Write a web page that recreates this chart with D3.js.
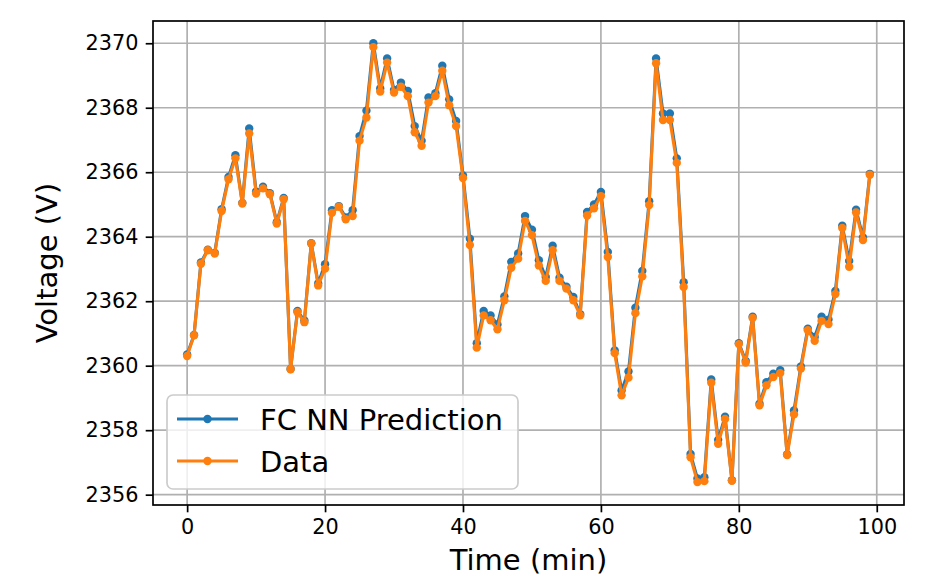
<!DOCTYPE html>
<html>
<head>
<meta charset="utf-8">
<script src="https://cdn.jsdelivr.net/npm/d3@7"></script>
<style>
  body { margin: 0; background: #fff; }
  svg { display: block; font-family: "DejaVu Sans", sans-serif; }
</style>
</head>
<body>
<svg id="chart" width="927" height="576"></svg>
<script>
// time index (min)
var time = d3.range(0, 100);

var prediction = [2360.35, 2360.95, 2363.2, 2363.6, 2363.5, 2364.85, 2365.85, 2366.53, 2365.05, 2367.36,
  2365.4, 2365.55, 2365.35, 2364.45, 2365.2, 2359.9, 2361.7, 2361.4, 2363.8, 2362.55,
  2363.15, 2364.82, 2364.95, 2364.6, 2364.82, 2367.12, 2367.91, 2370.0, 2368.6, 2369.53,
  2368.55, 2368.78, 2368.52, 2367.43, 2366.98, 2368.32, 2368.45, 2369.3, 2368.26, 2367.59,
  2365.9, 2363.94, 2360.7, 2361.7, 2361.56, 2361.28, 2362.15, 2363.22, 2363.48, 2364.64,
  2364.22, 2363.27, 2362.75, 2363.72, 2362.73, 2362.45, 2362.13, 2361.6, 2364.77, 2365.0,
  2365.39, 2363.53, 2360.47, 2359.23, 2359.82, 2361.8, 2362.94, 2365.1, 2369.53, 2367.82,
  2367.82, 2366.43, 2362.59, 2357.26, 2356.5, 2356.54, 2359.57, 2357.7, 2358.42, 2356.45,
  2360.7, 2360.15, 2361.52, 2358.82, 2359.49, 2359.75, 2359.86, 2357.25, 2358.61, 2359.98,
  2361.15, 2360.89, 2361.52, 2361.43, 2362.32, 2364.34, 2363.25, 2364.84, 2363.98, 2365.95];

var data = [2360.3, 2360.94, 2363.16, 2363.58, 2363.48, 2364.8, 2365.78, 2366.43, 2365.03, 2367.2,
  2365.34, 2365.5, 2365.32, 2364.41, 2365.16, 2359.89, 2361.66, 2361.35, 2363.79, 2362.49,
  2363.01, 2364.74, 2364.93, 2364.54, 2364.64, 2366.98, 2367.7, 2369.88, 2368.5, 2369.4,
  2368.47, 2368.65, 2368.36, 2367.24, 2366.82, 2368.16, 2368.36, 2369.15, 2368.08, 2367.43,
  2365.82, 2363.74, 2360.56, 2361.56, 2361.41, 2361.13, 2362.03, 2363.04, 2363.32, 2364.49,
  2364.05, 2363.11, 2362.63, 2363.58, 2362.63, 2362.39, 2362.03, 2361.56, 2364.66, 2364.88,
  2365.26, 2363.37, 2360.39, 2359.08, 2359.63, 2361.63, 2362.77, 2364.98, 2369.38, 2367.62,
  2367.62, 2366.29, 2362.44, 2357.16, 2356.39, 2356.42, 2359.47, 2357.58, 2358.35, 2356.43,
  2360.67, 2360.1, 2361.48, 2358.77, 2359.39, 2359.65, 2359.77, 2357.23, 2358.49, 2359.91,
  2361.1, 2360.77, 2361.39, 2361.29, 2362.22, 2364.27, 2363.07, 2364.75, 2363.9, 2365.92];

var xTicks = [0, 20, 40, 60, 80, 100];
var yTicks = [2356, 2358, 2360, 2362, 2364, 2366, 2368, 2370];

var seriesNames = ["FC NN Prediction", "Data"];
var seriesColors = ["#1f77b4", "#ff7f0e"];

var svg = d3.select("#chart");
var plotL = 153, plotR = 904, plotT = 21, plotB = 505;

var x = d3.scaleLinear().domain([-4.95, 103.95]).range([plotL, plotR]);
var y = d3.scaleLinear().domain([2355.68, 2370.69]).range([plotB, plotT]);

// grid
var grid = svg.append("g");
grid.selectAll(".gx").data(xTicks).enter().append("line")
  .attr("x1", d => x(d)).attr("x2", d => x(d))
  .attr("y1", plotT).attr("y2", plotB)
  .attr("stroke", "#b0b0b0").attr("stroke-width", 1.7);
grid.selectAll(".gy").data(yTicks).enter().append("line")
  .attr("x1", plotL).attr("x2", plotR)
  .attr("y1", d => y(d)).attr("y2", d => y(d))
  .attr("stroke", "#b0b0b0").attr("stroke-width", 1.7);

// lines + markers
var line = d3.line().x((d, i) => x(time[i])).y(d => y(d));
[prediction, data].forEach(function(s, k) {
  var g = svg.append("g");
  g.append("path").datum(s)
    .attr("d", line).attr("fill", "none")
    .attr("stroke", seriesColors[k]).attr("stroke-width", 3.1)
    .attr("stroke-linejoin", "round");
  g.selectAll("circle").data(s).enter().append("circle")
    .attr("cx", (d, i) => x(time[i])).attr("cy", d => y(d))
    .attr("r", 4.2).attr("fill", seriesColors[k]);
});

// axes
var xAxis = d3.axisBottom(x).tickValues(xTicks).tickSize(7.3).tickPadding(7.3);
var yAxis = d3.axisLeft(y).tickValues(yTicks).tickSize(7.3).tickPadding(7.3).tickFormat(d3.format("d"));

var gx = svg.append("g").attr("transform", "translate(0," + plotB + ")").call(xAxis);
var gy = svg.append("g").attr("transform", "translate(" + plotL + ",0)").call(yAxis);
[gx, gy].forEach(function(g) {
  g.select(".domain").remove();
  g.selectAll(".tick line").attr("stroke", "#000").attr("stroke-width", 1.7);
  g.selectAll(".tick text").attr("fill", "#000").style("font-size", "20.8px")
    .style("font-family", "DejaVu Sans");
});

// frame
svg.append("rect").attr("x", plotL).attr("y", plotT)
  .attr("width", plotR - plotL).attr("height", plotB - plotT)
  .attr("fill", "none").attr("stroke", "#000").attr("stroke-width", 1.7);

// axis labels
svg.append("text").attr("x", (plotL + plotR) / 2).attr("y", 570)
  .attr("text-anchor", "middle").style("font-size", "29px").text("Time (min)");
svg.append("text").attr("transform", "translate(57," + (plotT + plotB) / 2 + ") rotate(-90)")
  .attr("text-anchor", "middle").style("font-size", "29px").text("Voltage (V)");

// legend
var lg = svg.append("g");
lg.append("rect").attr("x", 167).attr("y", 395).attr("width", 351).attr("height", 94)
  .attr("rx", 6).attr("fill", "#fff").attr("fill-opacity", 0.8)
  .attr("stroke", "#cccccc").attr("stroke-width", 1.7);
seriesNames.forEach(function(name, k) {
  var cy = 419 + k * 42;
  lg.append("line").attr("x1", 177).attr("x2", 238).attr("y1", cy).attr("y2", cy)
    .attr("stroke", seriesColors[k]).attr("stroke-width", 3.1);
  lg.append("circle").attr("cx", 207.5).attr("cy", cy).attr("r", 4.2).attr("fill", seriesColors[k]);
  lg.append("text").attr("x", 260).attr("y", cy + 10.5)
    .style("font-size", "29px").text(name);
});
</script>
</body>
</html>
